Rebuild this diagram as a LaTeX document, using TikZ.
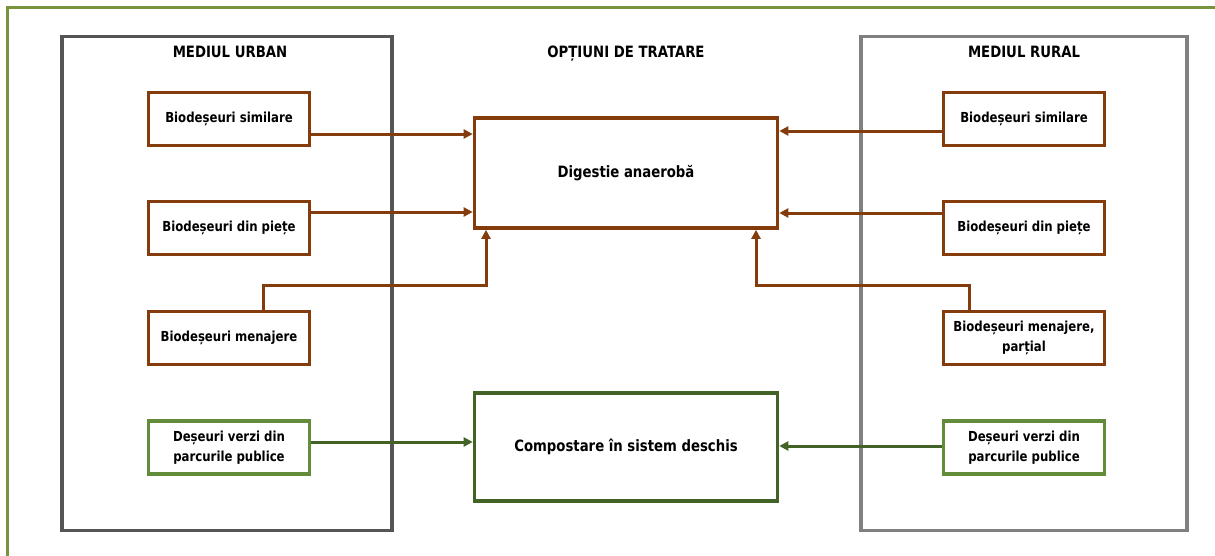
\documentclass[tikz,border=0pt]{standalone}
\usepackage{fontspec}
\setmainfont{DejaVu Sans}[FakeStretch=0.85]
\usetikzlibrary{arrows.meta, calc}
\definecolor{wastebrown}{RGB}{132,60,12}
\definecolor{parkgreen}{RGB}{98,140,58}
\definecolor{compostgreen}{RGB}{66,98,38}
\definecolor{framegreen}{RGB}{119,147,60}
\definecolor{urbangray}{RGB}{85,85,85}
\definecolor{ruralgray}{RGB}{128,128,128}
\newcommand{\srcfont}{\bfseries\fontsize{13.8}{20.5}\selectfont}
\newcommand{\optfont}{\bfseries\fontsize{15.6}{19}\selectfont}

\begin{document}
\begin{tikzpicture}[
    x=1pt, y=-1pt,
    >={Triangle[length=9pt, width=9pt]},
    source/.style={draw=wastebrown, line width=3.6pt, minimum width=161pt, minimum height=53pt,
        inner sep=2pt, align=center, font=\srcfont},
    park/.style={source, draw=parkgreen},
    option/.style={draw=wastebrown, line width=3.6pt, minimum width=303pt, minimum height=110pt,
        font=\optfont},
    flow/.style={->, wastebrown, line width=3pt},
    greenflow/.style={->, compostgreen, line width=3pt},
    title/.style={font=\optfont, anchor=base},
]
\useasboundingbox (0,0) rectangle (1215,555);
\clip (0,0) rectangle (1215,555);

% === CADRE ===
\draw[framegreen, line width=2.5pt] (7.5,7.5) rectangle (1240,580);
\draw[urbangray, line width=3.6pt] (62,36.5) rectangle (392,530.5);
\draw[ruralgray, line width=3.6pt] (861,36.5) rectangle (1187,530.5);

% Titluri
\node[title] (turban) at (230,57) {MEDIUL URBAN};
\node[title] (topt) at (626,57) {OPȚIUNI DE TRATARE};
\node[title] (trural) at (1024,57) {MEDIUL RURAL};

% === MEDIUL URBAN ===
\node[source] (u1) at (229,119) {Biodeșeuri similare};
\node[source] (u2) at (229,228) {Biodeșeuri din piețe};
\node[source] (u3) at (229,338) {Biodeșeuri menajere};
\node[park] (u4) at (229,447.5) {Deșeuri verzi din\\parcurile publice};

% === OPTIUNI ===
\node[option] (dig) at (626,173) {Digestie anaerobă};
\node[option, draw=compostgreen, minimum height=108pt] (comp) at (626,447) {Compostare în sistem deschis};

% === MEDIUL RURAL ===
\node[source] (r1) at (1024,119) {Biodeșeuri similare};
\node[source] (r2) at (1024,228) {Biodeșeuri din piețe};
\node[source] (r3) at (1024,338) {Biodeșeuri menajere,\\parțial};
\node[park] (r4) at (1024,447.5) {Deșeuri verzi din\\parcurile publice};

% === SAGETI ===
\draw[flow] ([yshift=-15pt]u1.east) -- ([yshift=-15pt]u1.east -| dig.west);
\draw[flow] ([yshift=16pt]u2.east) -- ([yshift=16pt]u2.east -| dig.west);
\draw[flow] ([yshift=-12pt]r1.west) -- ([yshift=-12pt]r1.west -| dig.east);
\draw[flow] ([yshift=15pt]r2.west) -- ([yshift=15pt]r2.west -| dig.east);

% menajere -> digestie
\coordinate (ujoin) at (486,285);
\coordinate (rjoin) at (756,285);
\draw[flow] ([xshift=34pt]u3.north) |- (ujoin) -- (ujoin |- dig.south);
\draw[flow] ([xshift=-55pt]r3.north) |- (rjoin) -- (rjoin |- dig.south);

% deseuri verzi -> compostare
\draw[greenflow] ([yshift=5.5pt]u4.east) -- ([yshift=5.5pt]u4.east -| comp.west);
\draw[greenflow] ([yshift=1.5pt]r4.west) -- ([yshift=1.5pt]r4.west -| comp.east);

\end{tikzpicture}
\end{document}
